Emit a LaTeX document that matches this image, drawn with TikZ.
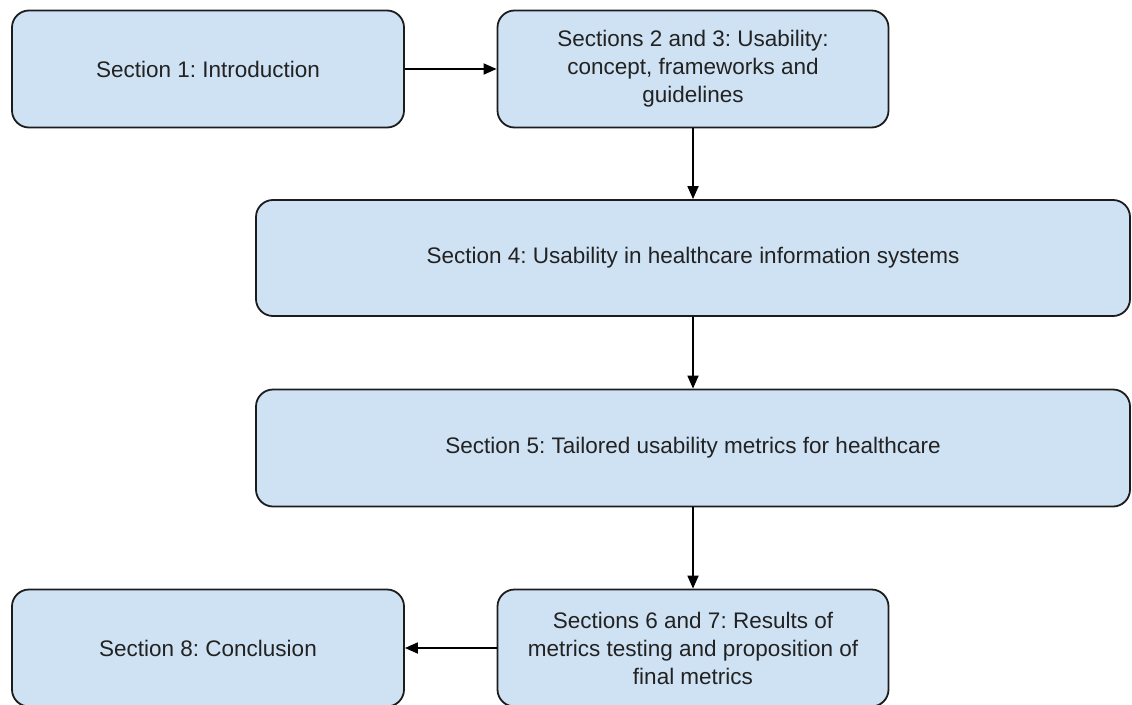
\documentclass[tikz,border=0pt]{standalone}
\usepackage{fontspec}
\setmainfont{Liberation Sans}
\usetikzlibrary{arrows.meta}
\definecolor{boxfill}{HTML}{CFE2F3}
\definecolor{boxline}{HTML}{1C1C1C}
\definecolor{boxtext}{HTML}{222222}
\frenchspacing
\begin{document}
\begin{tikzpicture}[x=1pt,y=-1pt,
  secbox/.style={draw=boxline, fill=boxfill, line width=1.8pt, rounded corners=17pt,
    minimum height=117pt, align=center, inner sep=0pt, text=boxtext,
    font=\fontsize{22.5}{28}\selectfont},
  flow/.style={line width=1.8pt, draw=black, -{Triangle[length=13pt,width=11pt]}}]
\useasboundingbox (0,0) rectangle (1132,704);
\node[secbox, minimum width=392pt] (s1) at (208,69) {Section 1: Introduction};
\node[secbox, minimum width=391pt] (s2) at (693,69) {Sections 2 and 3: Usability:\\concept, frameworks and\\guidelines};
\node[secbox, minimum width=874pt, minimum height=116pt] (s4) at (693,258) {Section 4: Usability in healthcare information systems};
\node[secbox, minimum width=874pt] (s5) at (693,448) {Section 5: Tailored usability metrics for healthcare};
\node[secbox, minimum width=391pt] (s67) at (693,648) {Sections 6 and 7: Results of\\metrics testing and proposition of\\final metrics};
\node[secbox, minimum width=392pt] (s8) at (208,648) {Section 8: Conclusion};
\draw[flow] (s1) -- (s2);
\draw[flow] (s2.south) -- (s4.north);
\draw[flow] (s4.south) -- (s5.north);
\draw[flow] (s5.south) -- (s67.north);
\draw[flow] (s67) -- (s8);
\end{tikzpicture}
\end{document}
